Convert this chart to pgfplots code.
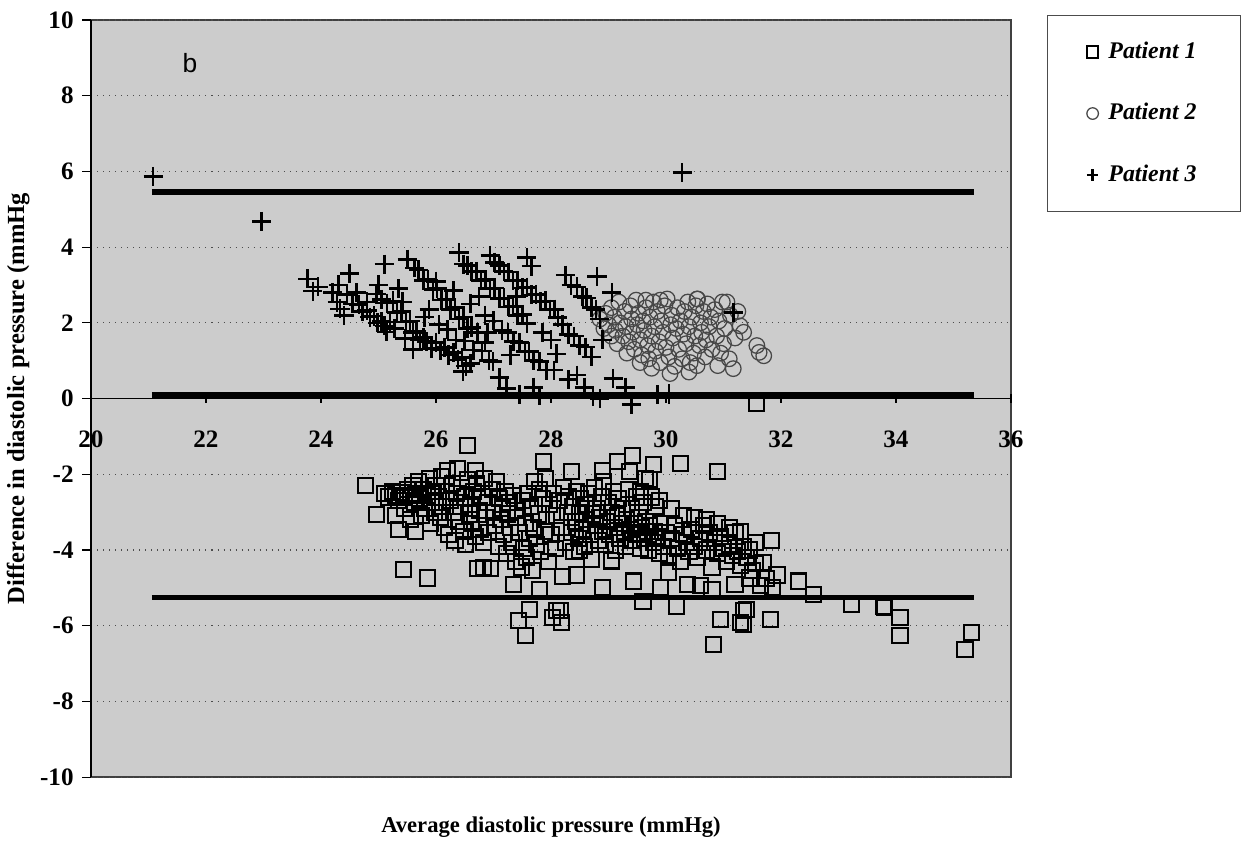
\documentclass[border=0pt]{standalone}
\usepackage{fontspec}
\setmainfont{Liberation Serif}
\newfontfamily\arialfont{Liberation Sans}
\usepackage{pgfplots}
\pgfplotsset{compat=1.18}
\definecolor{plotbg}{gray}{0.8}
\definecolor{gridc}{gray}{0.3}
\definecolor{circc}{gray}{0.28}

\begin{document}
\begin{tikzpicture}
% page = 1249 x 840 px at 0.014 cm per px
\path[use as bounding box] (-1.274,-0.882) rectangle (16.212,10.88);
\begin{axis}[
  at={(0,0)}, anchor=south west,
  scale only axis,
  width=12.88cm, height=10.60cm,
  xmin=20, xmax=36, ymin=-10, ymax=10,
  axis x line*=middle,
  axis y line*=left,
  axis line style={black, line width=0.6pt},
  axis background/.style={fill=plotbg, draw=black!75, line width=0.6pt},
  hide obscured x ticks=false,
  hide obscured y ticks=false,
  xtick={20,22,...,36},
  xticklabels={20,22,24,26,28,30,32,34,36},
  ytick={-10,-8,...,10},
  yticklabels={-10,-8,-6,-4,-2,0,2,4,6,8,10},
  xtick align=center,
  ytick align=outside,
  major tick length=0.12cm,
  tick style={black, line width=0.5pt},
  ymajorgrids,
  major grid style={gridc, dotted, line width=0.5pt},
  tick label style={font=\fontsize{10}{12}\selectfont\bfseries},
  xticklabel style={yshift=-0.27cm},
  xlabel={Average diastolic pressure (mmHg)},
  xlabel style={at={(axis description cs:0.5,-0.066)}, anchor=center,
    font=\fontsize{9}{11}\selectfont\bfseries},
  ylabel={Difference in diastolic pressure (mmHg},
  ylabel style={at={(axis description cs:-0.0792,0.5)}, anchor=center,
    font=\fontsize{9.8}{12}\selectfont\bfseries},
  legend style={at={(1.0391,1.0066)}, anchor=north west, draw=black!70, fill=white,
    line width=0.5pt, font=\fontsize{9.5}{11}\selectfont\bfseries\itshape,
    inner xsep=0.55cm, inner ysep=0.28cm, row sep=0.40cm, column sep=0.07cm,
    nodes={text height=0.25cm, text depth=0.07cm}},
  legend cell align=left,
  legend image code/.code={\draw[#1] plot coordinates {(0cm,0cm)};},
  legend image post style={mark size=2.3pt, line width=0.5pt},
]
% limits of agreement and mean difference
\addplot[black, line width=2.2pt, forget plot] coordinates {(21.06,5.45) (35.36,5.45)};
\addplot[black, line width=2.2pt, forget plot] coordinates {(21.06,0.09) (35.36,0.09)};
\addplot[black, line width=2.2pt, forget plot] coordinates {(21.06,-5.25) (35.36,-5.25)};

% Patient 1
\addplot[only marks, mark=square, mark size=3pt,
  mark options={draw=black, line width=0.8pt}] table {
x y
24.77 -2.29
24.97 -3.07
25.43 -4.52
25.86 -4.74
26.54 -1.23
26.68 -1.89
26.82 -4.47
27.34 -4.91
27.80 -5.05
27.63 -5.57
27.43 -5.87
27.55 -6.26
27.87 -1.67
28.10 -5.60
28.19 -5.92
28.03 -5.79
28.90 -5.00
29.43 -4.82
29.90 -5.00
30.37 -4.90
29.60 -5.35
30.19 -5.48
30.94 -5.84
30.82 -6.50
31.29 -5.92
31.34 -5.60
31.81 -5.84
31.40 -5.58
31.34 -5.97
29.41 -1.50
29.15 -1.66
29.78 -1.75
30.25 -1.71
30.90 -1.92
28.36 -1.92
28.89 -1.89
29.37 -1.92
29.72 -2.15
31.84 -3.76
31.69 -4.34
31.93 -4.66
32.30 -4.82
32.56 -5.18
33.23 -5.45
33.78 -5.48
33.80 -5.52
34.07 -5.79
34.07 -6.26
35.32 -6.18
35.20 -6.63
31.46 -4.74
31.50 -4.53
31.58 -0.13
29.06 -4.29
28.45 -4.66
28.50 -4.00
28.16 -5.60
25.10 -2.50
25.18 -2.60
25.25 -2.45
25.30 -2.55
25.35 -2.70
25.40 -2.48
25.45 -2.62
25.50 -2.40
25.55 -2.55
25.60 -2.30
25.62 -2.75
25.65 -2.50
25.70 -2.20
25.72 -2.65
25.75 -3.10
25.78 -2.40
25.80 -2.90
25.85 -2.55
25.88 -2.10
25.90 -3.30
25.92 -2.75
25.95 -2.45
25.98 -3.00
25.30 -3.10
25.35 -3.45
25.45 -2.90
25.55 -3.20
25.65 -3.50
26.00 -2.30
26.05 -2.60
26.08 -3.15
26.10 -2.05
26.12 -2.85
26.15 -3.40
26.18 -2.45
26.20 -1.90
26.22 -3.60
26.25 -2.70
26.28 -2.25
26.30 -3.00
26.33 -3.75
26.35 -2.50
26.38 -1.85
26.40 -3.25
26.42 -2.85
26.45 -2.35
26.48 -3.50
26.50 -2.60
26.52 -3.85
26.55 -2.15
26.58 -3.05
26.60 -2.80
26.62 -3.30
26.65 -2.45
26.68 -3.65
26.70 -2.25
26.72 -4.50
26.75 -2.95
26.78 -3.45
26.80 -2.60
26.82 -3.80
26.85 -2.10
26.88 -3.15
26.90 -2.75
26.92 -3.55
26.95 -4.50
26.98 -2.40
27.00 -3.00
27.02 -3.35
27.05 -2.20
27.08 -3.90
27.10 -2.65
27.12 -3.20
27.15 -2.90
27.18 -3.60
27.20 -2.45
27.22 -4.10
27.25 -3.05
27.28 -2.75
27.30 -3.40
27.32 -3.80
27.35 -2.55
27.38 -4.30
27.40 -3.15
27.42 -2.95
27.45 -3.55
27.48 -4.45
27.50 -2.70
27.52 -3.95
27.55 -3.30
27.58 -4.20
27.60 -2.50
27.62 -3.70
27.65 -2.85
27.68 -4.55
27.70 -3.40
27.72 -2.20
27.75 -3.85
27.78 -3.05
27.80 -2.40
27.82 -4.05
27.85 -2.65
27.88 -3.50
27.90 -2.10
27.92 -3.20
27.95 -4.30
27.98 -2.80
28.00 -3.60
28.05 -2.50
28.08 -3.95
28.10 -3.10
28.15 -2.70
28.18 -3.40
28.20 -4.70
28.22 -2.35
28.25 -3.80
28.28 -3.00
28.30 -2.60
28.35 -3.55
28.38 -2.85
28.40 -4.05
28.42 -3.25
28.45 -2.45
28.48 -3.70
28.50 -3.00
28.52 -2.65
28.55 -3.45
28.58 -3.90
28.60 -2.80
28.62 -3.20
28.65 -2.50
28.68 -3.60
28.70 -4.25
28.72 -3.05
28.75 -2.35
28.78 -3.35
28.80 -2.90
28.82 -3.75
28.85 -3.15
28.88 -2.60
28.90 -3.50
28.92 -2.20
28.95 -3.85
28.98 -3.25
29.00 -2.75
29.02 -3.60
29.05 -3.00
29.08 -2.45
29.10 -3.40
29.12 -4.00
29.15 -3.10
29.18 -2.65
29.20 -3.70
29.22 -3.30
29.25 -2.90
29.28 -3.55
29.30 -3.90
29.32 -3.20
29.35 -2.40
29.38 -3.45
29.40 -2.90
29.42 -3.75
29.45 -3.30
29.48 -2.60
29.50 -3.60
29.52 -3.15
29.55 -3.95
29.58 -3.40
29.60 -2.75
29.62 -3.70
29.65 -3.25
29.68 -3.50
29.70 -4.00
29.72 -3.35
29.75 -2.60
29.78 -3.80
29.80 -3.50
29.82 -2.85
29.85 -3.65
29.88 -4.10
29.90 -3.30
29.95 -3.90
30.00 -3.55
30.05 -4.15
30.10 -3.70
30.15 -3.35
30.20 -3.95
30.25 -4.30
30.30 -3.60
30.35 -3.80
30.40 -4.05
30.45 -3.45
30.50 -3.90
30.55 -4.20
30.60 -3.70
30.65 -3.35
30.70 -4.00
30.75 -3.55
30.80 -4.45
30.85 -3.80
30.90 -4.10
30.95 -3.65
31.00 -3.95
31.05 -4.30
31.10 -3.85
31.15 -4.15
31.20 -3.55
31.25 -4.05
31.30 -4.40
31.35 -3.90
31.40 -4.20
31.45 -4.00
31.55 -4.35
29.65 -2.10
29.55 -2.45
29.88 -2.70
30.10 -2.90
30.30 -3.10
30.50 -3.15
30.70 -3.20
30.90 -3.30
31.10 -3.40
31.30 -3.50
31.55 -3.80
31.75 -4.75
31.65 -4.95
31.85 -5.00
31.20 -4.90
30.80 -5.05
30.60 -4.95
30.05 -4.60
};
\addlegendentry{Patient 1}

% Patient 2
\addplot[only marks, mark=o, mark size=3.1pt,
  mark options={draw=circc, line width=0.5pt}] table {
x y
28.85 2.10
28.95 2.25
29.00 1.95
29.05 2.40
29.10 2.15
29.12 1.80
29.18 2.55
29.20 2.00
29.25 1.65
29.28 2.30
29.30 1.90
29.35 1.50
29.38 2.45
29.40 2.10
29.42 1.75
29.45 1.30
29.48 2.60
29.50 1.95
29.52 2.25
29.55 1.55
29.58 1.15
29.60 2.05
29.62 1.80
29.65 2.40
29.68 1.40
29.70 1.05
29.72 2.15
29.75 1.65
29.78 2.55
29.80 1.90
29.82 1.25
29.85 2.30
29.88 1.50
29.90 0.95
29.92 2.05
29.95 1.75
29.98 2.45
30.00 1.35
30.02 2.63
30.05 1.10
30.07 0.66
30.08 1.95
30.10 2.20
30.12 1.60
30.15 0.85
30.18 1.85
30.20 2.40
30.22 1.30
30.25 2.05
30.28 1.05
30.30 1.70
30.32 2.30
30.35 1.45
30.38 2.55
30.40 1.90
30.42 0.95
30.45 2.15
30.48 1.20
30.50 1.65
30.52 2.45
30.54 0.87
30.55 2.63
30.58 1.40
30.60 2.00
30.62 1.75
30.65 2.30
30.68 1.10
30.70 1.55
30.72 2.50
30.75 1.90
30.78 2.15
30.80 1.30
30.85 2.35
30.88 1.65
30.90 0.87
30.92 2.05
30.95 1.20
30.98 2.55
31.00 1.45
31.02 1.85
31.06 2.55
31.10 1.05
31.12 2.20
31.17 0.79
31.20 1.60
31.25 2.30
31.29 1.92
31.35 1.75
31.58 1.40
31.62 1.22
31.70 1.13
29.15 1.45
29.32 1.20
29.55 0.95
29.75 0.80
29.05 1.65
28.92 1.85
29.65 2.60
29.90 2.60
30.54 2.63
30.40 0.70
};
\addlegendentry{Patient 2}

% Patient 3
\addplot[only marks, mark=+, mark size=3.8pt,
  mark options={draw=black, line width=1.05pt}] table {
x y
21.08 5.87
22.97 4.68
30.28 5.97
23.77 3.16
23.86 2.84
23.95 2.95
24.20 2.80
24.28 2.55
24.33 2.37
24.30 3.00
24.50 3.30
24.45 2.75
24.62 2.80
24.55 2.50
24.66 2.48
24.72 2.30
24.80 2.33
24.85 2.15
24.92 2.18
24.98 2.00
25.05 2.04
25.10 1.92
25.14 1.76
25.20 2.02
24.97 2.76
25.10 3.55
25.05 2.62
25.15 2.52
25.25 2.58
25.32 2.28
25.40 2.30
25.48 2.02
25.55 2.05
25.60 1.75
25.66 1.78
25.72 1.55
25.78 1.62
25.60 1.30
25.35 2.90
25.42 2.55
25.28 1.85
25.46 1.58
25.50 3.68
25.63 3.45
25.70 3.40
25.78 3.12
25.86 3.15
25.95 2.88
26.02 2.90
26.10 2.60
26.18 2.62
26.25 2.35
26.33 2.40
26.40 2.10
26.48 2.15
26.55 1.85
26.62 1.88
25.84 1.50
25.92 1.33
26.00 1.48
26.08 1.28
26.15 1.35
26.22 1.15
26.30 1.22
26.38 1.02
26.45 1.08
26.52 0.86
26.60 0.92
26.47 0.72
25.80 2.15
25.88 2.35
26.05 1.95
26.20 1.82
26.35 1.55
26.50 1.52
26.65 1.28
26.80 1.26
26.92 1.00
26.99 0.98
26.72 1.75
26.85 1.48
26.40 3.85
26.48 3.55
26.55 3.52
26.62 3.35
26.70 3.36
26.78 3.12
26.86 3.14
26.94 2.90
27.02 2.92
27.10 2.65
27.18 2.66
27.26 2.42
27.34 2.44
27.42 2.20
27.50 2.22
27.58 1.98
26.94 3.78
27.02 3.60
27.10 3.52
27.18 3.36
27.26 3.34
27.34 3.12
27.42 3.12
27.50 2.92
27.58 2.94
27.66 2.74
27.74 2.75
27.82 2.56
27.90 2.58
27.98 2.36
28.06 2.36
28.12 2.14
27.58 3.72
27.66 3.50
26.75 2.70
26.85 2.20
27.00 2.05
27.15 1.80
27.25 1.75
27.35 1.50
27.45 1.48
27.55 1.24
27.62 1.25
27.70 1.00
27.80 0.98
27.92 0.75
28.05 0.75
27.23 0.26
27.45 0.10
27.70 0.30
27.80 0.08
27.10 0.55
28.25 3.26
28.35 3.00
28.45 2.95
28.55 2.70
28.62 2.66
28.70 2.40
28.78 2.36
28.85 2.10
28.80 3.22
29.06 2.80
28.20 1.95
28.30 1.70
28.40 1.65
28.50 1.40
28.60 1.36
28.70 1.10
28.30 0.50
28.45 0.62
28.58 0.30
28.73 0.05
28.85 0.00
29.08 0.53
29.30 0.30
29.40 -0.15
29.85 0.10
30.05 0.12
31.17 2.28
28.00 1.55
27.85 1.75
28.10 1.18
24.40 2.20
25.00 3.00
26.00 3.10
26.30 2.85
26.60 2.50
27.40 2.70
27.30 1.15
26.90 1.75
28.90 1.55
24.80 2.55
};
\addlegendentry{Patient 3}

\node[font=\arialfont\fontsize{10.5}{12}\selectfont] at (axis cs:21.72,8.87) {b};
\end{axis}
\end{tikzpicture}
\end{document}
